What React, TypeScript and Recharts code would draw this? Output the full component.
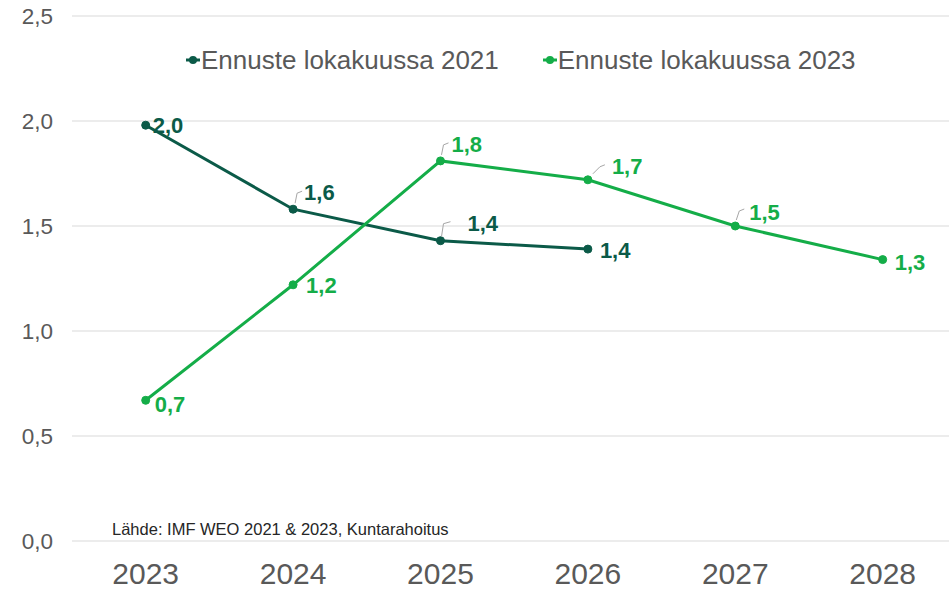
import { CartesianGrid, LabelList, Line, LineChart, XAxis, YAxis } from "recharts";

const years = [2023, 2024, 2025, 2026, 2027, 2028];
const forecast2021 = [1.98, 1.58, 1.43, 1.39, null, null];
const forecast2023 = [0.67, 1.22, 1.81, 1.72, 1.5, 1.34];
const seriesNames = ["Ennuste lokakuussa 2021", "Ennuste lokakuussa 2023"];
const yTicks = [0, 0.5, 1, 1.5, 2, 2.5];
const source = "Lähde: IMF WEO 2021 & 2023, Kuntarahoitus";

const DARK = "#0b5a48";
const LIGHT = "#14ad48";
const TEXT = "#595959";

const data = years.map((year, i) => ({ year, a: forecast2021[i], b: forecast2023[i] }));

type Spot = { dx: number; dy: number; leader?: number[][] };
const spots2021: Spot[] = [
  { dx: 7, dy: 0 },
  { dx: 11, dy: -17, leader: [[2, -6], [4, -16], [9, -18]] },
  { dx: 27, dy: -18, leader: [[1, -4], [3, -17], [10, -19]] },
  { dx: 12, dy: 1 },
];
const spots2023: Spot[] = [
  { dx: 9, dy: 4 },
  { dx: 13, dy: 0 },
  { dx: 11, dy: -17, leader: [[1, -6], [3, -16], [8, -18]] },
  { dx: 24, dy: -14, leader: [[5, -6], [12, -13], [17, -15]] },
  { dx: 14, dy: -14, leader: [[1, -6], [4, -15], [9, -17]] },
  { dx: 12, dy: 2 },
];

const fmt = (v: number) => v.toFixed(1).replace(".", ",");

function makeLabel(spots: Spot[], color: string) {
  return (props: any) => {
    const { x, y, value, index } = props;
    if (value == null || x == null) return null;
    const s = spots[index];
    return (
      <g>
        {s.leader && (
          <polyline
            points={s.leader.map(([px, py]) => `${x + px},${y + py}`).join(" ")}
            fill="none"
            stroke="#a6a6a6"
            strokeWidth={1}
          />
        )}
        <text x={x + s.dx} y={y + s.dy} dy="0.36em" fill={color} fontSize={22} fontWeight="bold" fontFamily="Liberation Sans, Arial, sans-serif">
          {fmt(Number(value))}
        </text>
      </g>
    );
  };
}

function LegendItem({ name, color }: { name: string; color: string }) {
  return (
    <span style={{ display: "inline-flex", alignItems: "center" }}>
      <svg width={16} height={12}>
        <line x1={1} y1={6} x2={15} y2={6} stroke={color} strokeWidth={3} />
        <circle cx={8} cy={6} r={4} fill={color} />
      </svg>
      <span>{name}</span>
    </span>
  );
}

export default function App() {
  return (
    <div style={{ position: "absolute", left: 0, top: 0, width: 949, height: 591, background: "#fff", fontFamily: "Liberation Sans, Arial, sans-serif" }}>
      <LineChart width={949} height={591} data={data} margin={{ top: 16, right: 0, bottom: 0, left: 0 }}>
        <CartesianGrid stroke="#d9d9d9" vertical={false} />
        <XAxis
          dataKey="year"
          type="number"
          domain={[2022.5, 2028.45]}
          ticks={years}
          axisLine={false}
          tickLine={false}
          tickSize={0}
          tickMargin={22}
          height={50}
          tick={{ fill: TEXT, fontSize: 30 }}
        />
        <YAxis
          domain={[0, 2.5]}
          ticks={yTicks}
          axisLine={false}
          tickLine={false}
          tickSize={0}
          tickMargin={19}
          width={72}
          tick={{ fill: TEXT, fontSize: 22.5 }}
          tickFormatter={(v) => fmt(Number(v))}
        />
        <Line dataKey="a" name={seriesNames[0]} stroke={DARK} strokeWidth={3} dot={{ r: 4, fill: DARK, stroke: DARK, strokeWidth: 1 }} isAnimationActive={false}>
          <LabelList dataKey="a" content={makeLabel(spots2021, DARK)} />
        </Line>
        <Line dataKey="b" name={seriesNames[1]} stroke={LIGHT} strokeWidth={3} dot={{ r: 4, fill: LIGHT, stroke: LIGHT, strokeWidth: 1 }} isAnimationActive={false}>
          <LabelList dataKey="b" content={makeLabel(spots2023, LIGHT)} />
        </Line>
      </LineChart>
      <div style={{ position: "absolute", left: 185, top: 46, display: "flex", gap: 43, fontSize: 26, lineHeight: "28px", color: TEXT, whiteSpace: "nowrap" }}>
        <LegendItem name={seriesNames[0]} color={DARK} />
        <LegendItem name={seriesNames[1]} color={LIGHT} />
      </div>
      <div style={{ position: "absolute", left: 112, top: 520, fontSize: 16.5, lineHeight: "19px", color: "#262626", whiteSpace: "nowrap" }}>{source}</div>
    </div>
  );
}
